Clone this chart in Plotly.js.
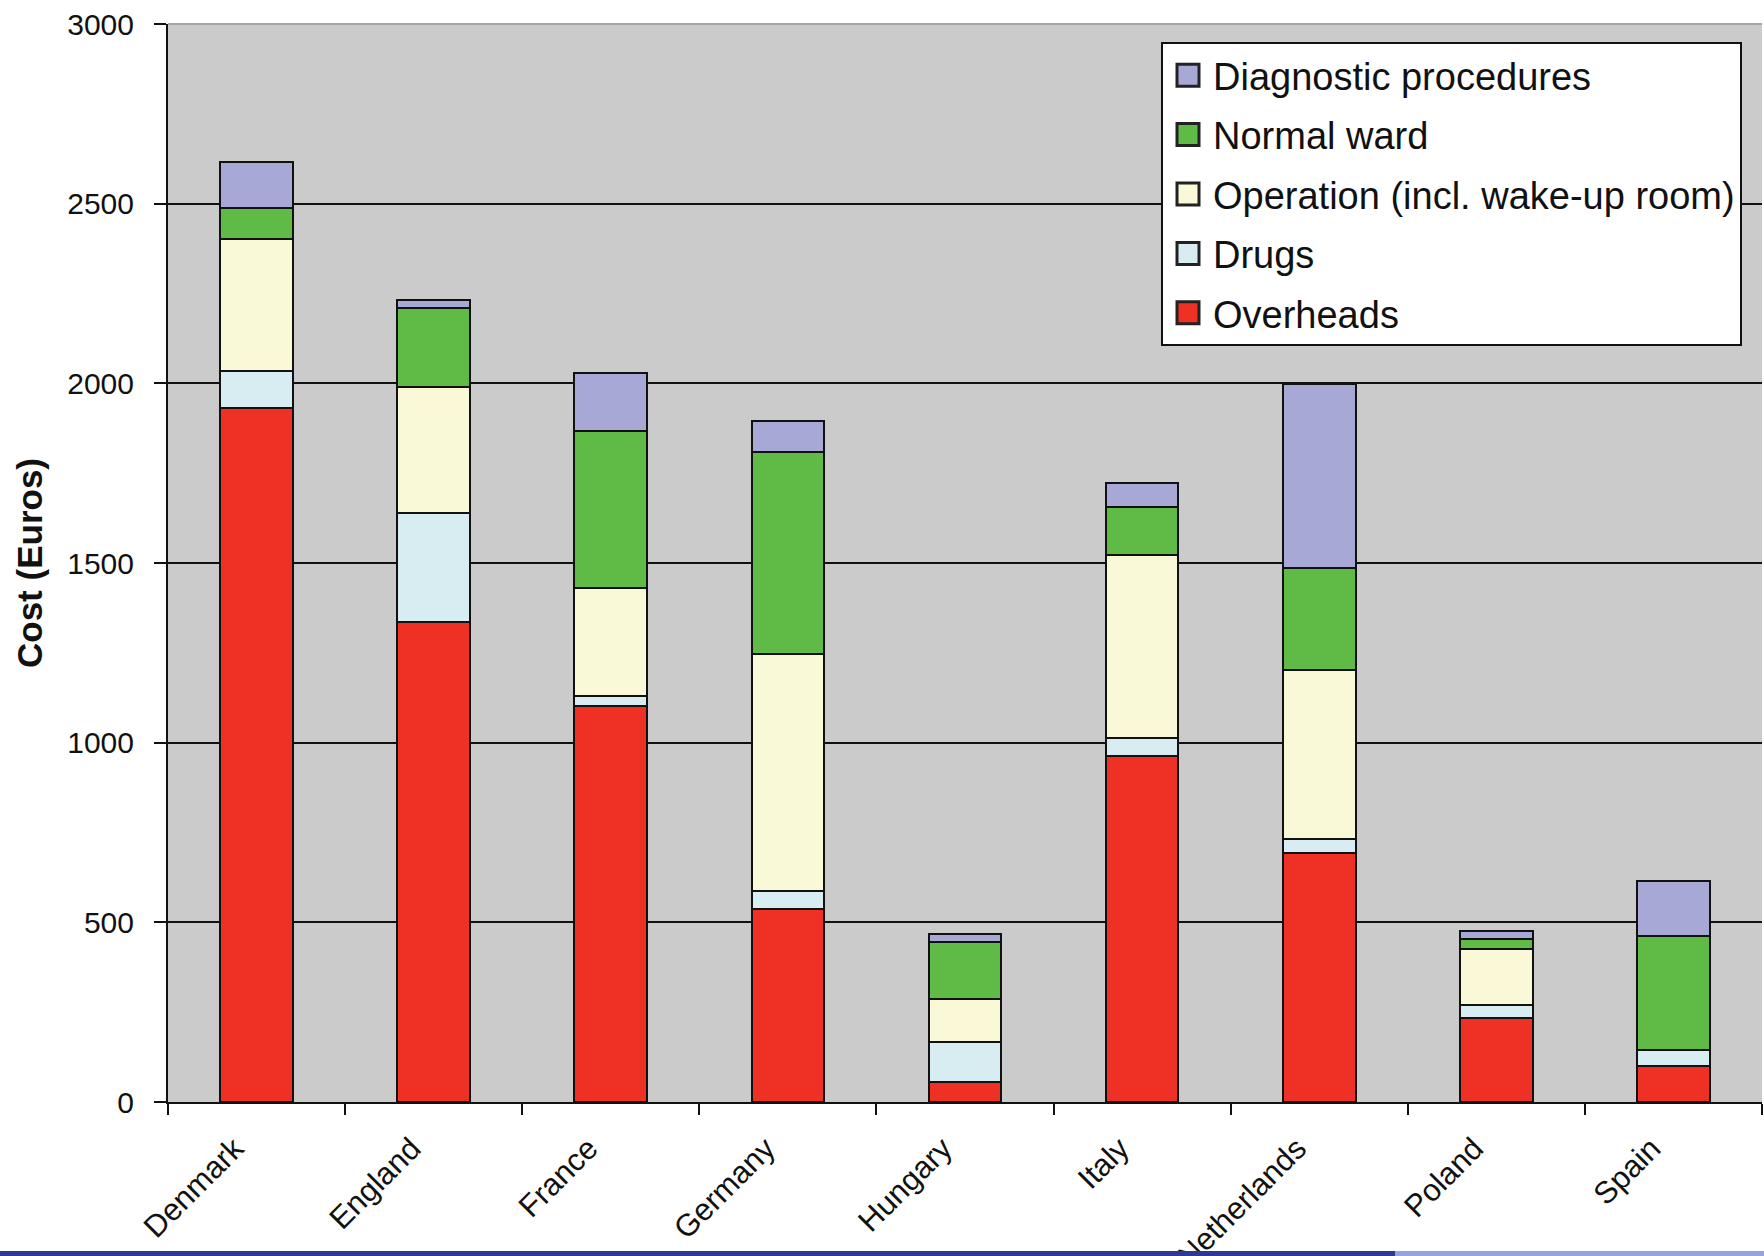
<!DOCTYPE html>
<html>
<head>
<meta charset="utf-8">
<script src="https://cdn.plot.ly/plotly-3.0.1.min.js"></script>
<style>
html,body{margin:0;padding:0;background:#fff;}
#chart{width:1764px;height:1256px;}
</style>
</head>
<body>
<div id="chart"></div>
<script>
const categories = ['Denmark','England','France','Germany','Hungary','Italy','Netherlands','Poland','Spain'];
const overheads  = [1932, 1336, 1101, 538, 57, 963, 694, 234, 101];
const drugs      = [103, 304, 29, 50, 111, 50, 38, 36, 45];
const operation  = [366, 350, 300, 660, 118, 510, 469, 155, 0];
const normalWard = [88, 219, 438, 560, 160, 132, 285, 28, 315];
const diagnostic = [128, 22, 160, 87, 22, 68, 513, 23, 154];
const yTicks = [0, 500, 1000, 1500, 2000, 2500, 3000];

const seriesNames = ['Overheads','Drugs','Operation (incl. wake-up room)','Normal ward','Diagnostic procedures'];
const seriesValues = [overheads, drugs, operation, normalWard, diagnostic];
const seriesColors = ['#ee3124','#d8edf2','#f9f9d7','#5fbb46','#a8a8d6'];

const traces = seriesNames.map((name, i) => ({
  type: 'bar',
  name: name,
  x: categories,
  y: seriesValues[i],
  legendgroup: 'g' + i,
  legendrank: 100 - i,
  marker: {color: seriesColors[i], line: {color: '#111', width: 2}},
  hoverinfo: 'none'
}));

const fontFam = '"Liberation Sans", Arial, sans-serif';
const L = 168, R = 2, T = 24, B = 154;
const PW = 1764 - L - R, PH = 1256 - T - B;

const layout = {
  width: 1764, height: 1256,
  margin: {l: L, r: R, t: T, b: B, pad: 0},
  paper_bgcolor: '#ffffff',
  plot_bgcolor: '#cbcbcb',
  barmode: 'stack',
  bargap: 0.59,
  font: {family: fontFam, color: '#111', size: 31},
  showlegend: true,
  legend: {
    x: (1742 - L) / PW, xanchor: 'right',
    y: 1 - (42 - T) / PH, yanchor: 'top',
    bgcolor: '#ffffff', bordercolor: '#111', borderwidth: 2,
    font: {family: fontFam, size: 38, color: '#111'},
    traceorder: 'grouped',
    tracegroupgap: 7,
    itemwidth: 40
  },
  xaxis: {
    type: 'category',
    showline: true, linecolor: '#111', linewidth: 2,
    ticks: 'outside', ticklen: 11, tickwidth: 2, tickcolor: '#111',
    tickson: 'boundaries',
    tickangle: -45,
    ticklabelshift: -22,
    ticklabelstandoff: 14,
    tickfont: {family: fontFam, size: 31, color: '#111'},
    showgrid: false, zeroline: false, fixedrange: true
  },
  yaxis: {
    range: [0, 3000],
    tickvals: yTicks,
    ticktext: yTicks.map(String),
    showline: true, linecolor: '#111', linewidth: 2,
    ticks: 'outside', ticklen: 12, tickwidth: 2, tickcolor: '#111',
    ticklabelstandoff: 14,
    tickfont: {family: fontFam, size: 30, color: '#111'},
    showgrid: true, gridcolor: '#111', gridwidth: 2,
    zeroline: false, fixedrange: true,
    title: {text: '<b>Cost (Euros)</b>', font: {family: fontFam, size: 35, color: '#111'}, standoff: 14}
  },
  shapes: [
    {type: 'line', xref: 'paper', yref: 'paper', x0: 0, x1: 1, y0: 1, y1: 1,
     line: {color: '#a6a6a6', width: 2}, layer: 'above'},
    {type: 'rect', xref: 'paper', yref: 'paper',
     x0: -L / PW, x1: (1395 - L) / PW, y0: -(B + 5) / PH, y1: -(B - 5) / PH,
     fillcolor: '#2e3a8e', line: {width: 0}, layer: 'above'},
    {type: 'rect', xref: 'paper', yref: 'paper',
     x0: (1395 - L) / PW, x1: (1764 - L) / PW, y0: -(B + 5) / PH, y1: -(B - 5) / PH,
     fillcolor: '#93a2e2', line: {width: 0}, layer: 'above'}
  ]
};

function enlargeSwatches() {
  // enlarge the legend colour swatches to match the reference's bigger squares
  document.querySelectorAll('#chart .legend .traces path').forEach(p => {
    p.setAttribute('d', 'M11,11H-11V-11H11Z');
    p.style.strokeWidth = '3px';
    p.style.stroke = '#222';
  });
}

const gdEl = document.getElementById('chart');
Plotly.newPlot(gdEl, traces, layout, {staticPlot: true, displayModeBar: false}).then(() => {
  enlargeSwatches();
  gdEl.on('plotly_afterplot', enlargeSwatches);
  setTimeout(enlargeSwatches, 100);
  setTimeout(enlargeSwatches, 500);
});
</script>
</body>
</html>
